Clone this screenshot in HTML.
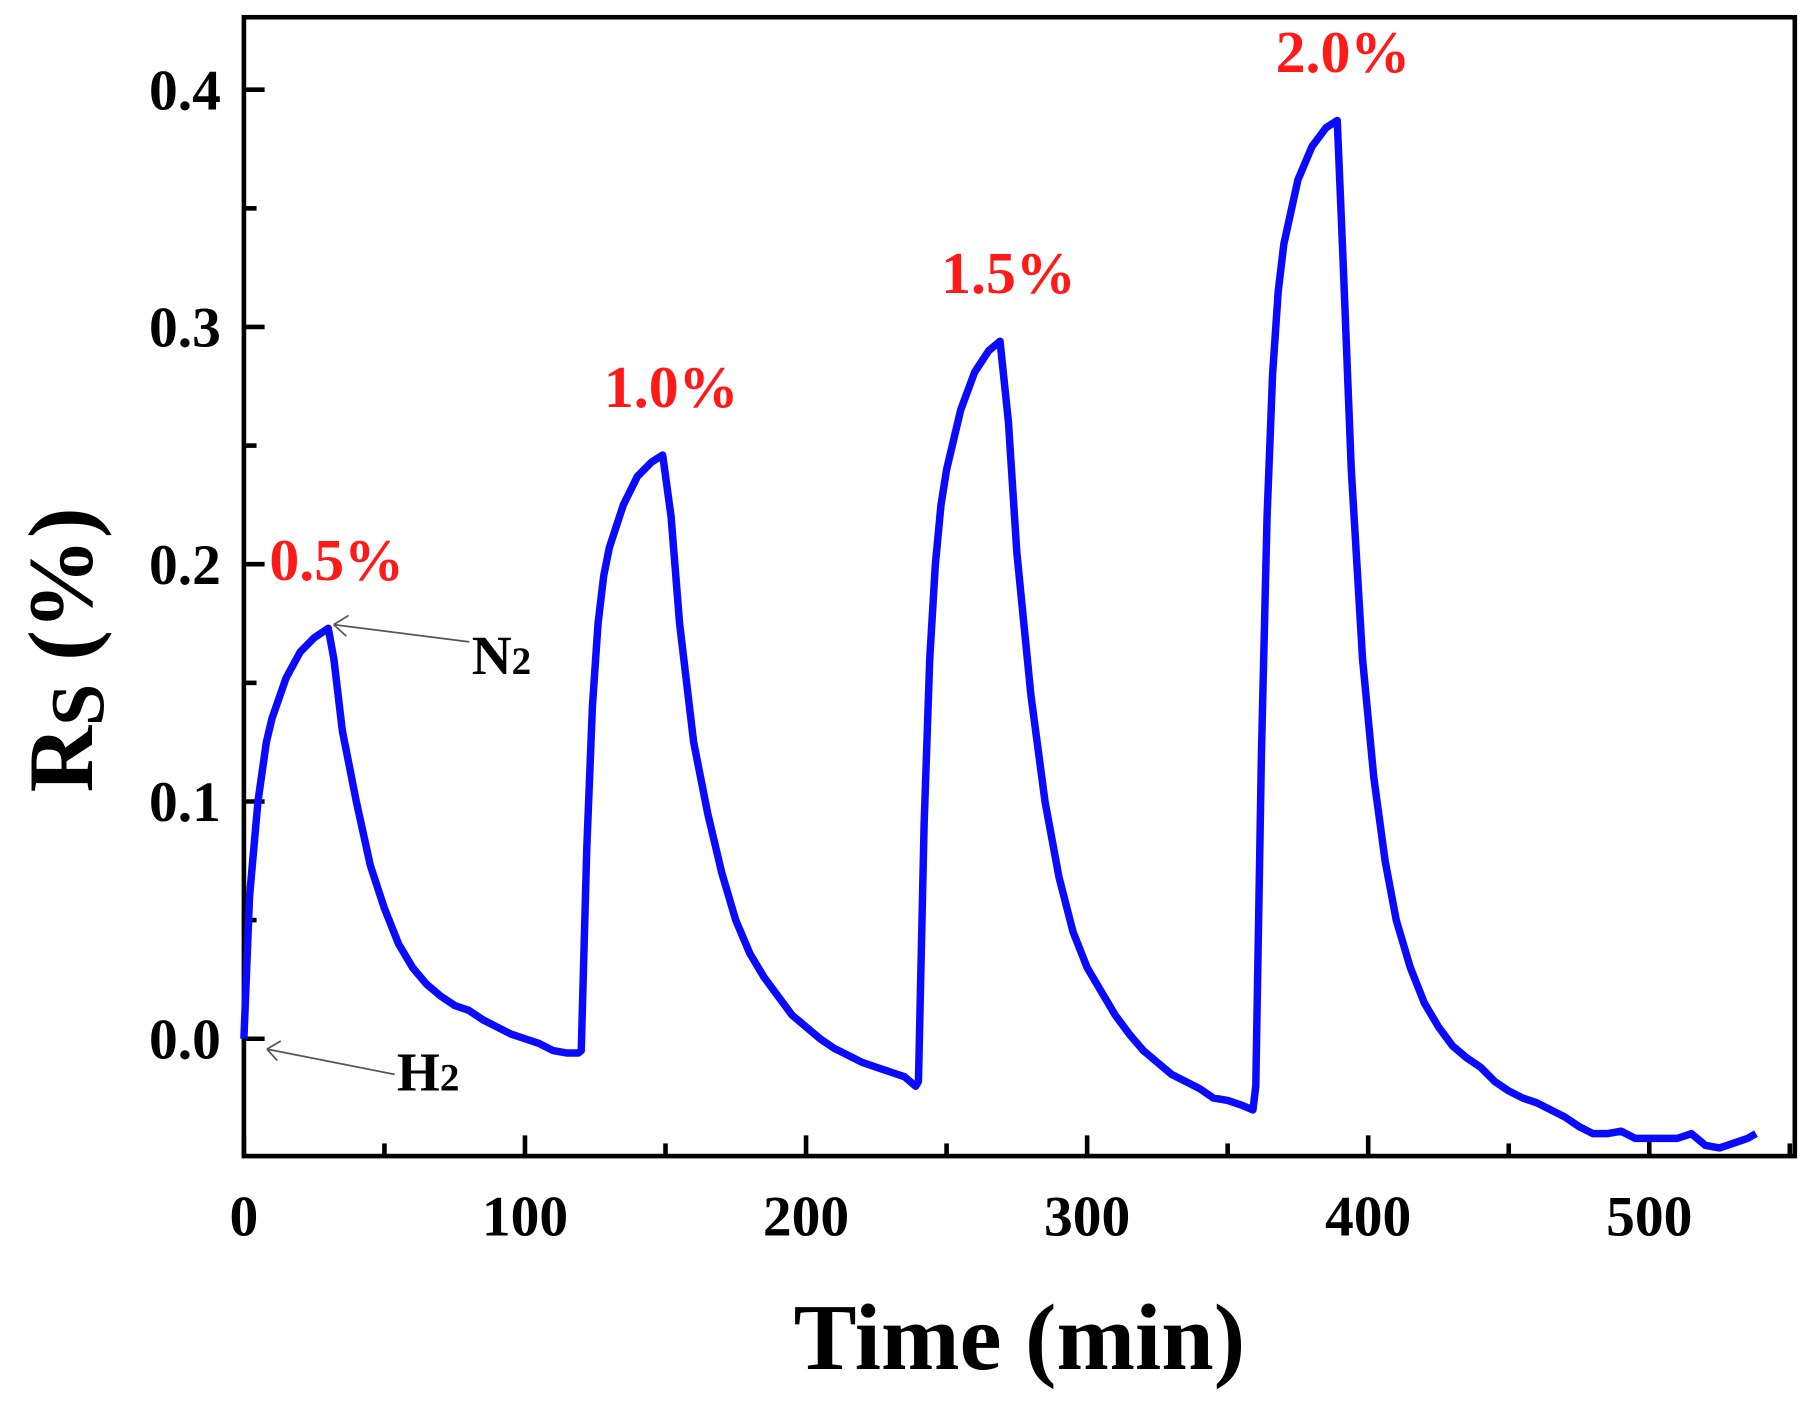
<!DOCTYPE html>
<html><head><meta charset="utf-8"><style>
html,body{margin:0;padding:0;background:#fff;}
svg{display:block;}
text{font-family:"Liberation Serif",serif;font-weight:bold;}
</style></head><body>
<svg id="chart" width="1804" height="1408" viewBox="0 0 1568 1224" preserveAspectRatio="none" xmlns="http://www.w3.org/2000/svg">
<g id="axes"></g>
<g id="plot"></g>
<g id="ann"></g>
</svg>
<script>
const xTicks = [0,100,200,300,400,500];
const xTickLabels = ["0","100","200","300","400","500"];
const yTicks = [0.0,0.1,0.2,0.3,0.4];
const yTickLabels = ["0.0","0.1","0.2","0.3","0.4"];
const timeMin = [0,2,5,8,10,15,20,25,30,32,35,40,45,50,55,60,65,70,75,80,85,90,95,100,105,110,115,119,
120,122,124,126,128,130,135,140,145,149,152,155,160,165,170,175,180,185,190,195,200,205,210,215,220,225,230,235,239,
240,242,244,246,248,250,255,260,265,269,272,275,280,285,290,295,300,305,310,315,320,325,330,335,340,345,350,355,359,
360,362,364,366,368,370,375,380,385,389,391,394,398,402,406,410,415,420,425,430,435,440,445,450,455,460,465,470,475,480,485,490,495,500,505,510,515,520,525,530,535,538];
const rsValues = [0,0.06,0.10,0.125,0.135,0.152,0.163,0.169,0.173,0.16,0.13,0.10,0.073,0.055,0.04,0.03,0.023,0.018,0.014,0.012,0.008,0.005,0.002,0,-0.002,-0.005,-0.006,-0.006,
-0.005,0.08,0.14,0.175,0.195,0.207,0.225,0.237,0.243,0.246,0.22,0.175,0.125,0.095,0.07,0.05,0.036,0.026,0.018,0.01,0.005,0.0,-0.004,-0.007,-0.01,-0.012,-0.014,-0.016,-0.02,
-0.018,0.09,0.16,0.2,0.225,0.24,0.265,0.281,0.29,0.294,0.26,0.205,0.145,0.10,0.068,0.045,0.03,0.02,0.01,0.002,-0.005,-0.01,-0.015,-0.018,-0.021,-0.025,-0.026,-0.028,-0.03,
-0.02,0.12,0.22,0.28,0.315,0.335,0.362,0.376,0.384,0.387,0.33,0.24,0.16,0.11,0.075,0.05,0.03,0.015,0.005,-0.003,-0.008,-0.012,-0.018,-0.022,-0.025,-0.027,-0.03,-0.033,-0.037,-0.04,-0.04,-0.039,-0.042,-0.042,-0.042,-0.042,-0.04,-0.045,-0.046,-0.044,-0.042,-0.04];
const concLabels = ["0.5%","1.0%","1.5%","2.0%"];
const concTimes = [33,152,272,391];
const concPeaks = [0.173,0.246,0.294,0.387];

const L=212,R=1560,T=15,B=1005;
const xs = v => 212 + v*2.443;
const ys = v => 903 - v*2062.5;
const NS="http://www.w3.org/2000/svg";
function mk(parent,tag,attrs,txt){const e=document.createElementNS(NS,tag);for(const k in attrs)e.setAttribute(k,attrs[k]);if(txt!==undefined)e.textContent=txt;document.getElementById(parent).appendChild(e);return e;}

let e;
e=mk('axes','rect',{x:L,y:T,width:R-L,height:B-T,fill:'none',stroke:'#000','stroke-width':4});


for(let v=0;v<=550;v+=50){
  const major = v%100===0;
  e=mk('axes','line',{x1:xs(v),x2:xs(v),y1:B,y2:B-(major?18:11),stroke:'#000','stroke-width':4});
  
  
}
xTicks.forEach((v,i)=>{
  e=mk('axes','text',{x:xs(v),y:1074,'text-anchor':'middle','font-size':50},xTickLabels[i]);
  
  
});
for(let k=0;k<=8;k++){
  const v=k*0.05; const major=k%2===0;
  e=mk('axes','line',{x1:L,x2:L+(major?18:11),y1:ys(v),y2:ys(v),stroke:'#000','stroke-width':4});
  
  
}
yTicks.forEach((v,i)=>{
  e=mk('axes','text',{x:192,y:ys(v)+17,'text-anchor':'end','font-size':50},yTickLabels[i]);
  
  
});
e=mk('axes','text',{x:886,y:1190,'text-anchor':'middle','font-size':82},'Time (min)');


e=mk('axes','text',{transform:'translate(80,565) rotate(-90)','text-anchor':'middle','font-size':80},'');


e.innerHTML='R<tspan dy="10" font-size="66">S</tspan><tspan dy="-10"> (%)</tspan>';

let d='';
timeMin.forEach((t,i)=>{d+=(i?'L':'M')+xs(t).toFixed(1)+' '+ys(rsValues[i]).toFixed(1);});
e=mk('plot','path',{d:d,fill:'none',stroke:'#0a0aff','stroke-width':6.5,'stroke-linejoin':'round'});



concLabels.forEach((s,i)=>{
  e=mk('ann','text',{x:xs(concTimes[i]),y:ys(concPeaks[i])-42,'text-anchor':'middle','font-size':52,fill:'#ff1a1a'},s);
  
  
});
e=mk('ann','path',{d:'M408 558 L290 543 M290 543 L303 535 M290 543 L301 553',stroke:'#555','stroke-width':1.5,fill:'none'});


e=mk('ann','text',{x:410,y:586,'font-size':48},'');
e.innerHTML='N<tspan font-size="34">2</tspan>';


e=mk('ann','path',{d:'M343 934 L232 912 M232 912 L244 905 M232 912 L241 922',stroke:'#555','stroke-width':1.5,fill:'none'});


e=mk('ann','text',{x:345,y:948,'font-size':48},'');
e.innerHTML='H<tspan font-size="34">2</tspan>';


</script>
</body></html>
